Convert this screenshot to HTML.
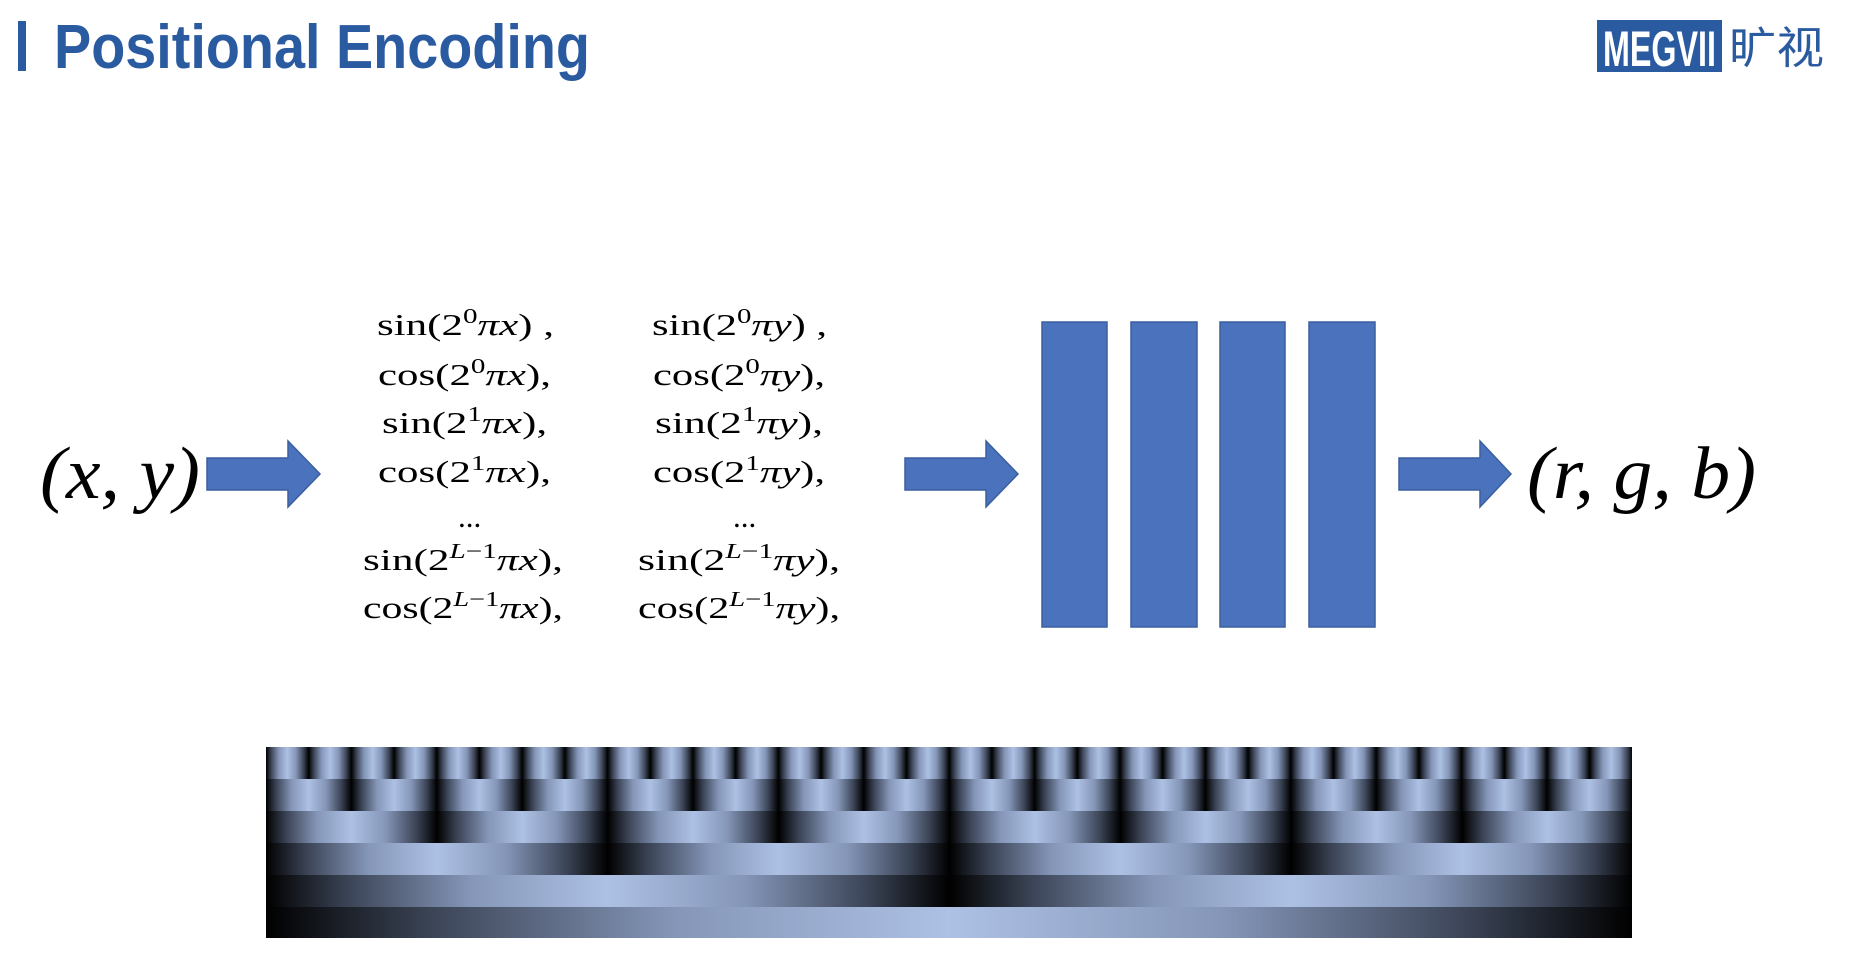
<!DOCTYPE html>
<html><head><meta charset="utf-8"><style>
html,body{margin:0;padding:0;background:#fff;width:1860px;height:956px;overflow:hidden;position:relative}
.row{position:absolute;left:266px;width:1366px;height:32px}
</style></head><body>
<svg width="1860" height="956" style="position:absolute;left:0;top:0" xmlns="http://www.w3.org/2000/svg">
<rect x="18" y="21" width="8" height="50" fill="#2a5ba0"/>
<text x="54" y="68" font-family="Liberation Sans, sans-serif" font-weight="bold" font-size="62" fill="#2a5ba0" textLength="536" lengthAdjust="spacingAndGlyphs">Positional Encoding</text>
<rect x="1597" y="20" width="125" height="52" fill="#2a5ba0"/>
<text x="1603" y="66" font-family="Liberation Sans, sans-serif" font-weight="bold" font-size="50" fill="#fff" textLength="113" lengthAdjust="spacingAndGlyphs">MEGVII</text>
<text x="1729" y="63" font-family="Noto Sans CJK SC, sans-serif" font-size="44" fill="#2a5ba0" textLength="95" lengthAdjust="spacingAndGlyphs">旷视</text>

<g font-family="Liberation Serif, serif" font-size="74" font-style="italic" fill="#000">
<text x="40" y="498" textLength="160" lengthAdjust="spacingAndGlyphs">(x, y)</text>
<text x="1527" y="498" textLength="229" lengthAdjust="spacingAndGlyphs">(r, g, b)</text>
</g>

<g fill="#4a72bd" stroke="#3a5f9f" stroke-width="1.5">
<polygon points="207,458 288,458 288,441 320,474 288,507 288,490 207,490"/>
<polygon points="905,458 986,458 986,441 1018,474 986,507 986,490 905,490"/>
<polygon points="1399,458 1480,458 1480,441 1511,474 1480,507 1480,490 1399,490"/>
<rect x="1042" y="322" width="65" height="305"/>
<rect x="1131" y="322" width="66" height="305"/>
<rect x="1220" y="322" width="65" height="305"/>
<rect x="1309" y="322" width="66" height="305"/>
</g>

<g font-family="Liberation Serif, serif" font-size="31" fill="#000">
<text x="377" y="335" textLength="177" lengthAdjust="spacingAndGlyphs">sin(2<tspan dy="-12" font-size="21">0</tspan><tspan dy="12" font-style="italic">πx</tspan>) ,</text>
<text x="378" y="385" textLength="173" lengthAdjust="spacingAndGlyphs">cos(2<tspan dy="-12" font-size="21">0</tspan><tspan dy="12" font-style="italic">πx</tspan>),</text>
<text x="382" y="433" textLength="165" lengthAdjust="spacingAndGlyphs">sin(2<tspan dy="-12" font-size="21">1</tspan><tspan dy="12" font-style="italic">πx</tspan>),</text>
<text x="378" y="482" textLength="173" lengthAdjust="spacingAndGlyphs">cos(2<tspan dy="-12" font-size="21">1</tspan><tspan dy="12" font-style="italic">πx</tspan>),</text>
<text x="458" y="527">...</text>
<text x="363" y="570" textLength="200" lengthAdjust="spacingAndGlyphs">sin(2<tspan dy="-12" font-size="21" font-style="italic">L</tspan><tspan font-size="21">−1</tspan><tspan dy="12" font-style="italic">πx</tspan>),</text>
<text x="363" y="618" textLength="200" lengthAdjust="spacingAndGlyphs">cos(2<tspan dy="-12" font-size="21" font-style="italic">L</tspan><tspan font-size="21">−1</tspan><tspan dy="12" font-style="italic">πx</tspan>),</text>

<text x="652" y="335" textLength="175" lengthAdjust="spacingAndGlyphs">sin(2<tspan dy="-12" font-size="21">0</tspan><tspan dy="12" font-style="italic">πy</tspan>) ,</text>
<text x="653" y="385" textLength="172" lengthAdjust="spacingAndGlyphs">cos(2<tspan dy="-12" font-size="21">0</tspan><tspan dy="12" font-style="italic">πy</tspan>),</text>
<text x="655" y="433" textLength="168" lengthAdjust="spacingAndGlyphs">sin(2<tspan dy="-12" font-size="21">1</tspan><tspan dy="12" font-style="italic">πy</tspan>),</text>
<text x="653" y="482" textLength="172" lengthAdjust="spacingAndGlyphs">cos(2<tspan dy="-12" font-size="21">1</tspan><tspan dy="12" font-style="italic">πy</tspan>),</text>
<text x="733" y="527">...</text>
<text x="638" y="570" textLength="202" lengthAdjust="spacingAndGlyphs">sin(2<tspan dy="-12" font-size="21" font-style="italic">L</tspan><tspan font-size="21">−1</tspan><tspan dy="12" font-style="italic">πy</tspan>),</text>
<text x="638" y="618" textLength="202" lengthAdjust="spacingAndGlyphs">cos(2<tspan dy="-12" font-size="21" font-style="italic">L</tspan><tspan font-size="21">−1</tspan><tspan dy="12" font-style="italic">πy</tspan>),</text>
</g>
</svg>
<div class="row" style="top:747px;background:repeating-linear-gradient(90deg,#000 0px,#3b4456 5.1px,#8596b8 12.8px,#adc1e4 21.35px,#8596b8 29.9px,#3b4456 37.6px,#000 42.7px)"></div>
<div class="row" style="top:779px;background:repeating-linear-gradient(90deg,#000 0px,#3b4456 10.2px,#8596b8 25.6px,#adc1e4 42.7px,#8596b8 59.8px,#3b4456 75.2px,#000 85.4px)"></div>
<div class="row" style="top:811px;background:repeating-linear-gradient(90deg,#000 0px,#3b4456 20.5px,#8596b8 51.3px,#adc1e4 85.45px,#8596b8 119.6px,#3b4456 150.4px,#000 170.9px)"></div>
<div class="row" style="top:843px;background:repeating-linear-gradient(90deg,#000 0px,#3b4456 41px,#8596b8 102.5px,#adc1e4 170.9px,#8596b8 239.2px,#3b4456 300.7px,#000 341.75px)"></div>
<div class="row" style="top:875px;background:repeating-linear-gradient(90deg,#000 0px,#3b4456 82px,#8596b8 205px,#adc1e4 341.75px,#8596b8 478.5px,#3b4456 601.5px,#000 683.5px)"></div>
<div class="row" style="top:907px;height:31px;background:linear-gradient(90deg,#000 0%,#3b4456 12%,#8596b8 30%,#adc1e4 50%,#8596b8 70%,#3b4456 88%,#000 100%)"></div>
</body></html>
